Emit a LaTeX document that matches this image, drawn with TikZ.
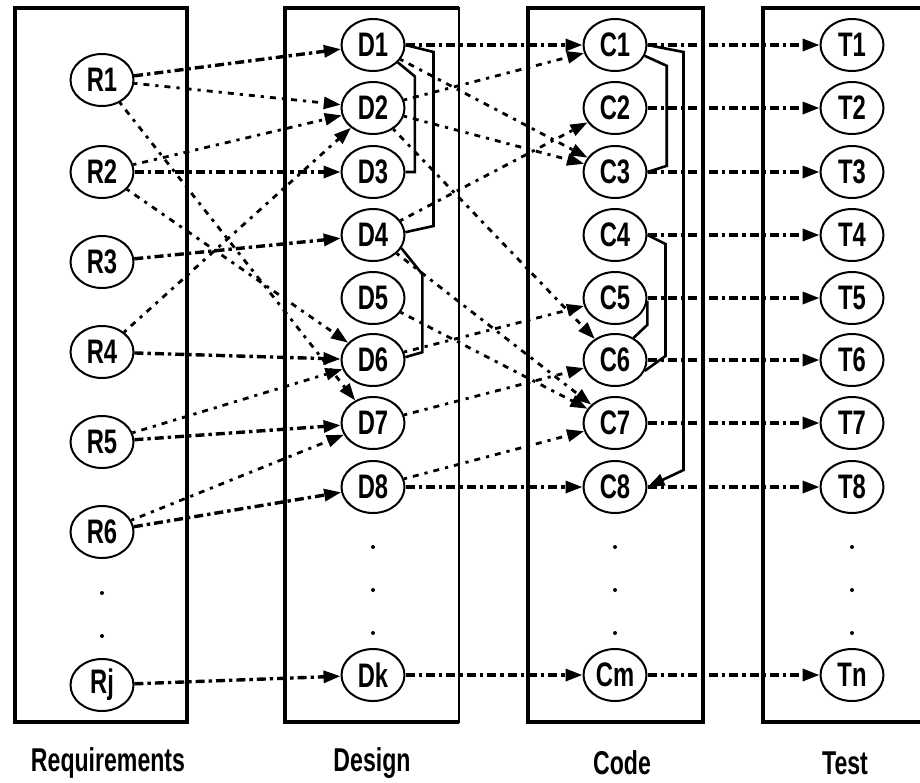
\documentclass[tikz,border=0pt]{standalone}
\usepackage{fontspec}
\setmainfont{Liberation Sans}[FakeStretch=0.7]
\usetikzlibrary{shapes.geometric, arrows.meta, positioning, calc}
\tikzset{
	item/.style={ellipse, draw, line width=1pt, minimum width=31.5pt, minimum height=26pt, inner sep=0pt, font=\bfseries\fontsize{17}{17}\selectfont},
	column/.style={draw, line width=2pt},
	trace/.style={draw, line width=1.7pt, dash pattern=on 4.5pt off 2pt on 1.7pt off 2pt, -{Triangle[length=8.5pt, width=6pt]}},
	xtrace/.style={trace, line width=1.4pt, dash pattern=on 1.6pt off 3pt on 3pt off 3pt},
	link/.style={draw, line width=1.3pt},
	caption/.style={font=\bfseries\fontsize{16.5}{16.5}\selectfont}
}

\begin{document}
\begin{tikzpicture}[x=0.5pt, y=-0.5pt]
	\useasboundingbox (0,0) rectangle (920,782);
	
	% The four phase boxes
	\draw[column] (15,8) rectangle (187,722);
	\draw[column] (459,8) -- (285,8) -- (285,722) -- (459,722);
	\draw[line width=1pt] (459,7) -- (459,723);
	\draw[column] (528,8) rectangle (703,722);
	\draw[column] (930,8) -- (763,8) -- (763,722) -- (930,722);
	
	% Requirements
	\node[item] (R1) at (102,80) {R1};
	\node[item] (R2) at (102,172) {R2};
	\node[item] (R3) at (102,262) {R3};
	\node[item] (R4) at (102,352) {R4};
	\node[item] (R5) at (102,442) {R5};
	\node[item] (R6) at (102,532) {R6};
	\node[item] (Rj) at (102,685) {Rj};
	
	% Design
	\node[item] (D1) at (373,45) {D1};
	\node[item] (D2) at (373,108) {D2};
	\node[item] (D3) at (373,172) {D3};
	\node[item] (D4) at (373,235) {D4};
	\node[item] (D5) at (373,298) {D5};
	\node[item] (D6) at (373,360) {D6};
	\node[item] (D7) at (373,423) {D7};
	\node[item] (D8) at (373,487) {D8};
	\node[item] (Dk) at (373,675) {Dk};
	
	% Code
	\node[item] (C1) at (615,45) {C1};
	\node[item] (C2) at (615,108) {C2};
	\node[item] (C3) at (615,172) {C3};
	\node[item] (C4) at (615,235) {C4};
	\node[item] (C5) at (615,298) {C5};
	\node[item] (C6) at (615,360) {C6};
	\node[item] (C7) at (615,423) {C7};
	\node[item] (C8) at (615,487) {C8};
	\node[item] (Cm) at (615,675) {Cm};
	
	% Test
	\node[item] (T1) at (852,45) {T1};
	\node[item] (T2) at (852,108) {T2};
	\node[item] (T3) at (852,172) {T3};
	\node[item] (T4) at (852,235) {T4};
	\node[item] (T5) at (852,298) {T5};
	\node[item] (T6) at (852,360) {T6};
	\node[item] (T7) at (852,423) {T7};
	\node[item] (T8) at (852,487) {T8};
	\node[item] (Tn) at (852,675) {Tn};
	
	% Ellipsis dots
	\fill (102,593) circle (2) (102,636) circle (2);
	\fill (373,547) circle (2) (373,590) circle (2) (373,633) circle (2);
	\fill (615,547) circle (2) (615,590) circle (2) (615,633) circle (2);
	\fill (852,547) circle (2) (852,590) circle (2) (852,633) circle (2);
	
	% Captions
	\node[caption] (reqcap) at (108,763) {Requirements};
	\node[caption] (descap) at (372,763) {Design};
	\node[caption] (codecap) at (622,763) {Code};
	\node[caption] (testcap) at (845,763) {Test};
	
	% Requirements to design
	\draw[trace] (R1) -- (D1);
	\draw[xtrace] (R1) -- (D2);
	\draw[xtrace] (R1) -- (D7);
	\draw[xtrace] (R2) -- (D2);
	\draw[trace] (R2) -- (D3);
	\draw[xtrace] (R2) -- (D6);
	\draw[trace] (R3) -- (D4);
	\draw[xtrace] (R4) -- (D2);
	\draw[trace] (R4) -- (D6);
	\draw[xtrace] (R5) -- (D6);
	\draw[trace] (R5) -- (D7);
	\draw[xtrace] (R6) -- (D7);
	\draw[trace] (R6) -- (D8);
	\draw[trace] (Rj) -- (Dk);
	
	% Design to code
	\draw[trace] (D1) -- (C1);
	\draw[xtrace] (D1) -- (C3);
	\draw[xtrace] (D2) -- (C1);
	\draw[xtrace] (D2) -- (C3);
	\draw[xtrace] (D2) -- (C6);
	\draw[xtrace] (D4) -- (C2);
	\draw[xtrace] (D4) -- (C7);
	\draw[xtrace] (D5) -- (C7);
	\draw[xtrace] (D6) -- (C5);
	\draw[xtrace] (D7) -- (C6);
	\draw[xtrace] (D8) -- (C7);
	\draw[trace] (D8) -- (C8);
	\draw[trace] (Dk) -- (Cm);
	
	% Code to test
	\draw[trace] (C1) -- (T1);
	\draw[trace] (C2) -- (T2);
	\draw[trace] (C3) -- (T3);
	\draw[trace] (C4) -- (T4);
	\draw[trace] (C5) -- (T5);
	\draw[trace] (C6) -- (T6);
	\draw[trace] (C7) -- (T7);
	\draw[trace] (C8) -- (T8);
	\draw[trace] (Cm) -- (Tn);
	
	% Links inside design and code
	\draw[link] (D1.-35) -- ++(17,14) |- (D3.east);
	\draw[link] (D1.east) -- ++(28,7) -- ++(0,174) -- (D4.5);
	\draw[link] (D4.-25) -- ++(21,26) -- ++(0,78) -- (D6.5);
	\draw[link] (C1.-20) -- ++(22,10) -- ++(0,100) -- (C3.east);
	\draw[link, -{Triangle[length=8.5pt, width=6pt]}] (C1.east) -- ++(36,7) -- ++(0,418) -- (C8.east);
	\draw[link] (C4.east) -- ++(18,9) -- ++(0,112) -- (C6.-20);
	\draw[link] (C5.-5) -- ++(0,24) -- (C6.50);
\end{tikzpicture}
\end{document}
